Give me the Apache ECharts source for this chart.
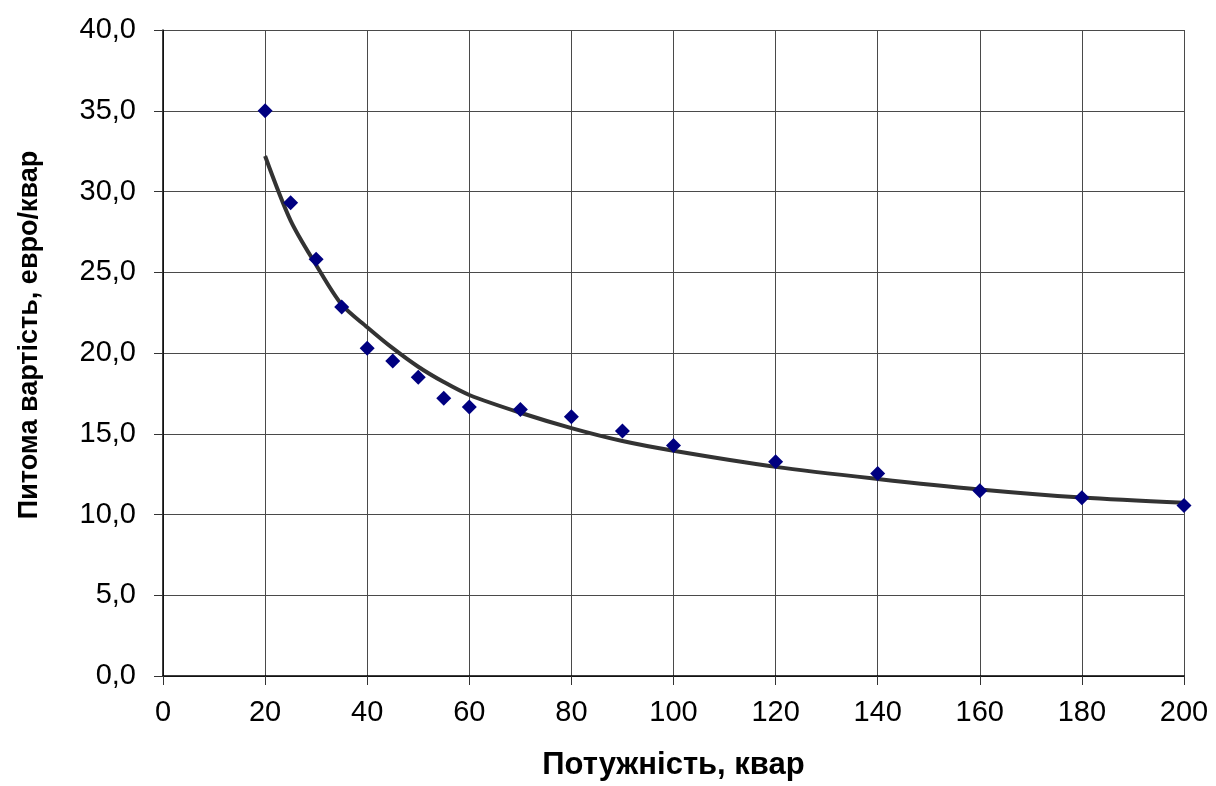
<!DOCTYPE html>
<html>
<head>
<meta charset="utf-8">
<script src="https://cdn.jsdelivr.net/npm/echarts@6/dist/echarts.min.js"></script>
<style>
  html, body { margin: 0; height: 100%; background: #fff; }
  #chart { width: 1216px; height: 786px; }
</style>
</head>
<body>
<div id="chart"></div>
<script>
// потужність, квар
var power = [20, 25, 30, 35, 40, 45, 50, 55, 60, 70, 80, 90, 100, 120, 140, 160, 180, 200];
// питома вартість, евро/квар (точки)
var unitCost = [35.0, 29.3, 25.8, 22.85, 20.3, 19.5, 18.5, 17.2, 16.65, 16.5, 16.05, 15.17, 14.28, 13.27, 12.54, 11.47, 11.03, 10.56];
// лінія тренду
var trendCost = [32.2, 28.2, 25.45, 23.0, 21.6, 20.3, 19.15, 18.2, 17.4, 16.3, 15.35, 14.55, 13.95, 12.95, 12.2, 11.55, 11.05, 10.72];

var points = [];
var trend = [];
for (var i = 0; i < power.length; i++) {
  points.push([power[i], unitCost[i]]);
  trend.push([power[i], trendCost[i]]);
}

var font = '"Liberation Sans", Arial, sans-serif';
var myChart = echarts.init(document.getElementById('chart'));
myChart.setOption({
  animation: false,
  grid: { left: 163, right: 32, top: 30, bottom: 110 },
  xAxis: {
    type: 'value',
    min: 0, max: 200, interval: 20,
    name: 'Потужність, квар',
    nameLocation: 'middle',
    nameGap: 74,
    nameTextStyle: { fontFamily: font, fontSize: 31, fontWeight: 'bold', color: '#000' },
    axisLine: { lineStyle: { color: '#000', width: 1.5 } },
    axisTick: { show: true, inside: false, length: 9, lineStyle: { color: '#333' } },
    axisLabel: { fontFamily: font, fontSize: 29, color: '#000', margin: 22 },
    splitLine: { show: true, lineStyle: { color: '#4a4a4a', width: 1 } }
  },
  yAxis: {
    type: 'value',
    min: 0, max: 40, interval: 5,
    name: 'Питома вартість, евро/квар',
    nameLocation: 'middle',
    nameGap: 120,
    nameTextStyle: {
      fontFamily: font, fontSize: 27, fontWeight: 'bold', color: '#000',
      padding: [0, 0, 0, 36]
    },
    axisLine: { show: true, lineStyle: { color: '#000', width: 1.5 } },
    axisTick: { show: true, inside: false, length: 9, lineStyle: { color: '#333' } },
    axisLabel: {
      fontFamily: font, fontSize: 29, color: '#000', margin: 27,
      formatter: function (v) { return v.toFixed(1).replace('.', ','); }
    },
    splitLine: { show: true, lineStyle: { color: '#4a4a4a', width: 1 } }
  },
  series: [
    {
      name: 'тренд',
      type: 'line',
      data: trend,
      smooth: 0.3,
      symbol: 'none',
      lineStyle: { color: '#333', width: 4 },
      z: 2
    },
    {
      name: 'дані',
      type: 'scatter',
      data: points,
      symbol: 'diamond',
      symbolSize: 15,
      itemStyle: { color: '#000080', opacity: 1 },
      z: 3
    }
  ]
});
</script>
</body>
</html>
